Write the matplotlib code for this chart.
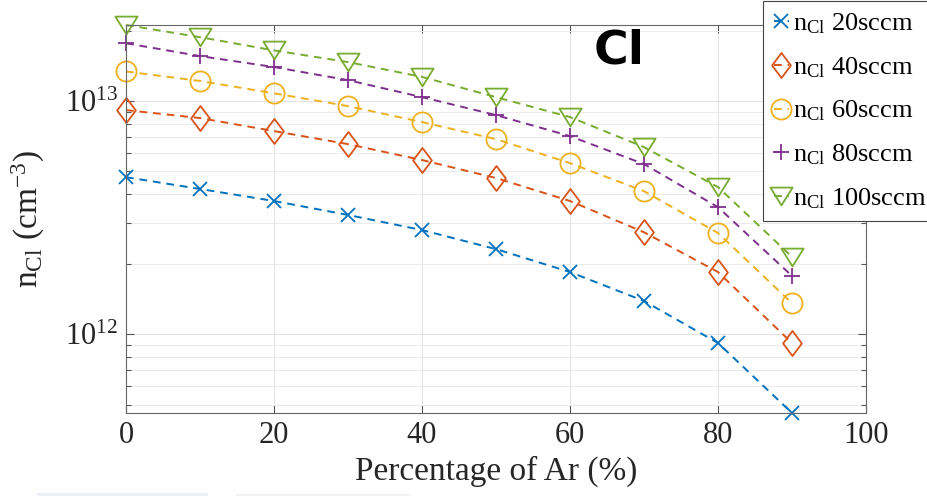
import numpy as np
import matplotlib
matplotlib.use('Agg')
import matplotlib.pyplot as plt
from matplotlib.path import Path
from matplotlib.patches import Rectangle
from matplotlib.ticker import NullFormatter, FixedLocator


# Ar fraction (%) and Cl density (cm^-3) for each total flow
ar_percent = [0, 10, 20, 30, 40, 50, 60, 70, 80, 90]

n_cl_20 = [4.72e12, 4.20e12, 3.73e12, 3.25e12, 2.80e12, 2.32e12, 1.85e12, 1.39e12, 9.18e11, 4.60e11]
n_cl_40 = [9.15e12, 8.46e12, 7.44e12, 6.54e12, 5.59e12, 4.68e12, 3.73e12, 2.74e12, 1.85e12, 9.18e11]
n_cl_60 = [1.34e13, 1.22e13, 1.08e13, 9.52e12, 8.13e12, 6.87e12, 5.42e12, 4.11e12, 2.72e12, 1.36e12]
n_cl_80 = [1.77e13, 1.56e13, 1.40e13, 1.23e13, 1.04e13, 8.71e12, 7.08e12, 5.37e12, 3.51e12, 1.78e12]
n_cl_100 = [2.12e13, 1.88e13, 1.65e13, 1.47e13, 1.27e13, 1.04e13, 8.54e12, 6.35e12, 4.28e12, 2.15e12]

flows = ['20sccm', '40sccm', '60sccm', '80sccm', '100sccm']
x_ticks = [0, 20, 40, 60, 80, 100]

# matlab-like default colors
colors = ['#0072BD', '#D95319', '#EDB120', '#7E2F8E', '#77AC30']

plt.rcParams['font.family'] = ['Liberation Serif', 'DejaVu Serif']
plt.rcParams['mathtext.fontset'] = 'custom'
plt.rcParams['mathtext.rm'] = 'Liberation Serif'
plt.rcParams['mathtext.it'] = 'Liberation Serif:italic'
plt.rcParams['mathtext.bf'] = 'Liberation Serif:bold'


def make_markers():
    diamond = Path([(0, 1), (0.75, 0), (0, -1), (-0.75, 0), (0, 1)],
                   [Path.MOVETO, Path.LINETO, Path.LINETO, Path.LINETO, Path.CLOSEPOLY])
    tri_down = Path([(-1, 0.8), (1, 0.8), (0, -0.8), (-1, 0.8)],
                    [Path.MOVETO, Path.LINETO, Path.LINETO, Path.CLOSEPOLY])
    return [('x', 9.5), (diamond, 18), ('o', 14.5), ('+', 11), (tri_down, 16)]


def plot_density():
    fig = plt.figure(figsize=(9.27, 4.96), dpi=100)
    ax = fig.add_axes([126 / 927, 83 / 496, 740 / 927, 388 / 496])

    series = [n_cl_20, n_cl_40, n_cl_60, n_cl_80, n_cl_100]
    handles = []
    for vals, flow, color, (marker, ms) in zip(series, flows, colors, make_markers()):
        line, = ax.plot(ar_percent, vals, color=color, lw=1.4, dashes=(4, 3),
                        marker=marker, markersize=ms, markerfacecolor='none',
                        markeredgecolor=color, markeredgewidth=1.3, clip_on=False,
                        label=r'n$_{\mathregular{Cl}}$ ' + flow)
        handles.append(line)

    ax.set_yscale('log')
    all_vals = np.concatenate(series)
    ax.set_ylim(all_vals.min(), all_vals.max())
    ax.set_xlim(0, 100)
    ax.xaxis.set_major_locator(FixedLocator(x_ticks))
    ax.yaxis.set_minor_formatter(NullFormatter())

    ax.grid(True, which='major', color='#e2e2e2', lw=0.7)
    ax.grid(True, which='minor', axis='y', color='#ebebeb', lw=0.7)
    ax.set_axisbelow(True)

    ax.tick_params(which='both', direction='in', top=True, right=True,
                   color='#555555', labelsize=22, labelcolor='#262626', pad=5.5)
    ax.tick_params(which='major', length=6, width=0.8)
    ax.tick_params(which='minor', length=3.5, width=0.8)
    for sp in ax.spines.values():
        sp.set_color('#666666')
        sp.set_linewidth(0.8)

    ax.set_xlabel('Percentage of Ar (%)', fontsize=24, color='#262626')
    ax.set_ylabel(r'n$_{\mathregular{Cl}}$ (cm$^{\mathregular{-3}}$)', fontsize=24, color='#262626')
    ax.xaxis.set_label_coords(0.5, -0.11)
    ax.yaxis.set_label_coords(-0.107, 0.5)

    leg = ax.legend(handles=handles, loc='upper left',
                    bbox_to_anchor=(763 / 927, 1 - 1 / 496), bbox_transform=fig.transFigure,
                    borderaxespad=0, fontsize=19, handlelength=0.6, handletextpad=0.15,
                    borderpad=0.4, labelspacing=0.72, fancybox=False, framealpha=1,
                    edgecolor='#444444')
    leg.get_frame().set_linewidth(0.8)

    fig.text(594 / 927, 1 - 63 / 496, 'Cl', family='DejaVu Sans', fontweight='bold',
             fontsize=34, ha='left', va='baseline', color='black')

    # faint strips along the lower edge
    fig.patches.append(Rectangle((37 / 927, 0), 170 / 927, 3 / 496, transform=fig.transFigure,
                                 color='#edf1f5', zorder=0))
    fig.patches.append(Rectangle((236 / 927, 0), 174 / 927, 2 / 496, transform=fig.transFigure,
                                 color='#f3f3f3', zorder=0))

    fig.savefig('out.png', dpi=100)


if __name__ == "__main__":
    plot_density()
